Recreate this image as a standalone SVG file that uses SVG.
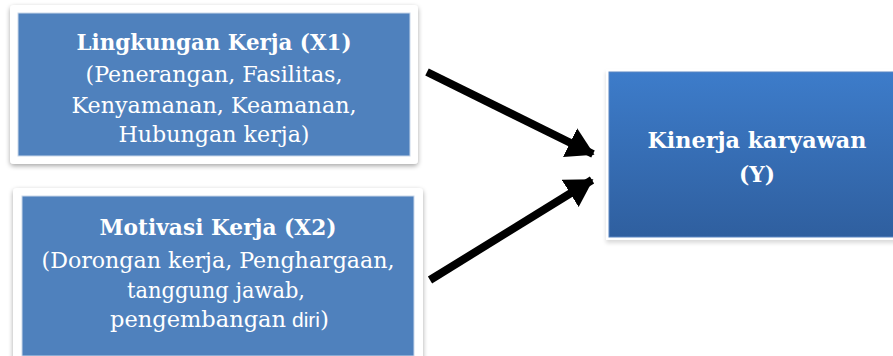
<svg xmlns="http://www.w3.org/2000/svg" width="893" height="356" viewBox="0 0 893 356">
<defs>
<linearGradient id="gy" x1="0" y1="0" x2="0" y2="1">
<stop offset="0" stop-color="#3d7cca"/>
<stop offset="1" stop-color="#2f5f9f"/>
</linearGradient>
<filter id="sh" x="-10%" y="-10%" width="120%" height="130%">
<feGaussianBlur in="SourceAlpha" stdDeviation="2.5"/>
<feOffset dx="0" dy="2" result="b"/>
<feComponentTransfer><feFuncA type="linear" slope="0.35"/></feComponentTransfer>
<feMerge><feMergeNode/><feMergeNode in="SourceGraphic"/></feMerge>
</filter>
<filter id="sh2" x="-10%" y="-10%" width="120%" height="130%">
<feGaussianBlur in="SourceAlpha" stdDeviation="2"/>
<feOffset dx="0" dy="3" result="b"/>
<feComponentTransfer><feFuncA type="linear" slope="0.15"/></feComponentTransfer>
<feMerge><feMergeNode/><feMergeNode in="SourceGraphic"/></feMerge>
</filter>
<marker id="ah" markerWidth="4" markerHeight="4" refX="3.2" refY="2" orient="auto" markerUnits="strokeWidth">
<path d="M0,0 L3.4,2 L0,4 Z" fill="#000"/>
</marker>
<style>
.frame{fill:#fff;filter:url(#sh)}
.box{fill:#4f81bd;stroke:#c9d7ea;stroke-width:1}
.t{font-family:"DejaVu Serif","Liberation Serif",serif;fill:#fff;text-anchor:middle;font-size:23px}
.l{text-anchor:start}
.b{font-weight:bold}
.s{font-family:"Liberation Sans",Carlito,sans-serif;font-size:21px;fill:#fff}
.conn{stroke:#000;stroke-width:8;fill:none;marker-end:url(#ah)}
</style>
</defs>
<g id="node-x1">
<rect class="frame" x="10" y="5" width="408" height="159" rx="4"/>
<rect class="box" x="18" y="13" width="392" height="143"/>
<text class="t b" x="214" y="50" textLength="275" lengthAdjust="spacingAndGlyphs">Lingkungan Kerja (X1)</text>
<text class="t" x="214" y="82" textLength="257" lengthAdjust="spacingAndGlyphs">(Penerangan, Fasilitas,</text>
<text class="t" x="214" y="113" textLength="285" lengthAdjust="spacingAndGlyphs">Kenyamanan, Keamanan,</text>
<text class="t" x="214" y="142" textLength="191" lengthAdjust="spacingAndGlyphs">Hubungan kerja)</text>
</g>
<g id="node-x2">
<rect class="frame" x="13" y="188" width="410" height="175" rx="4"/>
<rect class="box" x="22" y="196" width="392" height="160"/>
<text class="t b" x="218" y="235" textLength="237" lengthAdjust="spacingAndGlyphs">Motivasi Kerja (X2)</text>
<text class="t" x="218" y="268" textLength="353" lengthAdjust="spacingAndGlyphs">(Dorongan kerja, Penghargaan,</text>
<text class="t" x="216" y="298" textLength="178" lengthAdjust="spacingAndGlyphs">tanggung jawab,</text>
<text class="t l" x="110" y="327" textLength="176" lengthAdjust="spacingAndGlyphs">pengembangan</text>
<text class="s" x="292" y="327">diri</text>
<text class="t l" x="320" y="327">)</text>
</g>
<g id="node-y">
<rect x="606" y="69" width="293" height="171" fill="#fff" filter="url(#sh2)"/>
<rect x="609" y="72" width="290" height="165" fill="url(#gy)" stroke="#5a86c2" stroke-width="1"/>
<text class="t b" x="757" y="148" textLength="219" lengthAdjust="spacingAndGlyphs">Kinerja karyawan</text>
<text class="t b" x="757" y="182" textLength="36" lengthAdjust="spacingAndGlyphs">(Y)</text>
</g>
<g id="connectors">
<line class="conn" x1="427" y1="72" x2="593" y2="154"/>
<line class="conn" x1="430" y1="280" x2="592" y2="180"/>
</g>
</svg>
